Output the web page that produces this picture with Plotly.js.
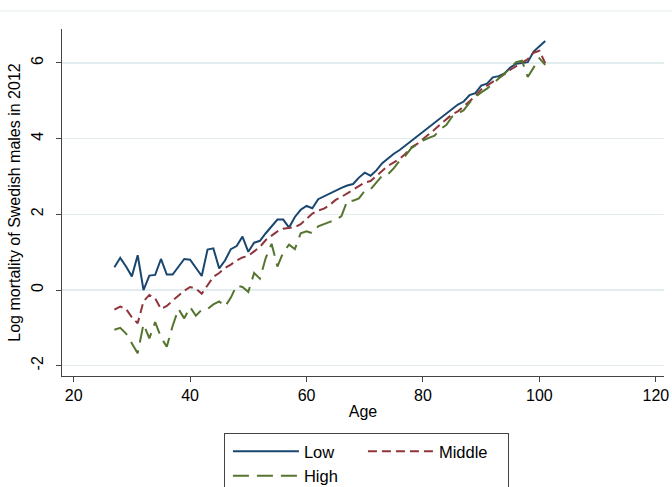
<!DOCTYPE html>
<html>
<head>
<meta charset="utf-8">
<script src="https://cdn.plot.ly/plotly-3.0.1.min.js"></script>
<style>html,body{margin:0;padding:0;background:#fff;}#chart{width:672px;height:487px;}</style>
</head>
<body>
<div id="chart"></div>
<script>
var ages = [];
for (var a = 27; a <= 101; a++) ages.push(a);

var lowVals = [
  0.60, 0.85, 0.62, 0.36, 0.92, 0.00, 0.38, 0.40, 0.82, 0.41,
  0.41, 0.62, 0.82, 0.80, 0.60, 0.37, 1.07, 1.10, 0.57, 0.78,
  1.08, 1.16, 1.41, 1.01, 1.25, 1.30, 1.50, 1.68, 1.86, 1.86,
  1.65, 1.93, 2.12, 2.22, 2.16, 2.40, 2.48, 2.55, 2.63, 2.70,
  2.76, 2.80, 2.97, 3.10, 3.02, 3.16, 3.35, 3.48, 3.60, 3.70,
  3.82, 3.93, 4.05, 4.18, 4.30, 4.40, 4.52, 4.65, 4.77, 4.90,
  4.98, 5.15, 5.20, 5.40, 5.45, 5.62, 5.65, 5.72, 5.88, 5.98,
  6.00, 6.02, 6.30, 6.45, 6.58
];
var middleVals = [
  -0.52, -0.44, -0.50, -0.72, -0.88, -0.30, -0.13, -0.22, -0.50, -0.42,
  -0.28, -0.15, -0.02, 0.08, 0.04, -0.10, 0.12, 0.35, 0.45, 0.58,
  0.67, 0.78, 0.86, 0.90, 1.02, 1.14, 1.32, 1.43, 1.55, 1.62,
  1.65, 1.66, 1.74, 1.87, 2.02, 2.10, 2.15, 2.25, 2.38, 2.46,
  2.56, 2.66, 2.75, 2.84, 2.88, 3.02, 3.16, 3.28, 3.37, 3.47,
  3.60, 3.77, 3.86, 3.98, 4.12, 4.24, 4.38, 4.52, 4.64, 4.72,
  4.85, 4.98, 5.12, 5.30, 5.40, 5.48, 5.60, 5.70, 5.82, 5.92,
  6.02, 6.10, 6.27, 6.32, 5.99
];
var highVals = [
  -1.05, -1.00, -1.15, -1.42, -1.67, -0.90, -1.28, -0.85, -1.25, -1.50,
  -0.95, -0.50, -0.75, -0.45, -0.68, -0.52, -0.50, -0.38, -0.30, -0.44,
  -0.20, 0.12, 0.08, -0.05, 0.45, 0.30, 0.85, 1.22, 0.62, 1.00,
  1.20, 1.08, 1.50, 1.55, 1.50, 1.68, 1.75, 1.80, 1.85, 1.95,
  2.36, 2.36, 2.42, 2.62, 2.66, 2.84, 3.02, 3.06, 3.22, 3.42,
  3.55, 3.75, 3.85, 3.95, 4.02, 4.08, 4.25, 4.36, 4.58, 4.66,
  4.75, 4.95, 5.10, 5.22, 5.32, 5.45, 5.58, 5.72, 5.86, 6.02,
  6.06, 5.63, 5.88, 6.12, 5.95
];
var seriesNames = ['Low', 'Middle', 'High'];
var xTicks = [20, 40, 60, 80, 100, 120];
var yTicks = [-2, 0, 2, 4, 6];

var FONT = 'Liberation Sans, Arial, sans-serif';
var traces = [
  {x: ages, y: lowVals, name: seriesNames[0], type: 'scatter', mode: 'lines', legendgroup: 'a',
   line: {color: '#1a476f', width: 2}},
  {x: ages, y: middleVals, name: seriesNames[1], type: 'scatter', mode: 'lines', legendgroup: 'b',
   legendwidth: 64,
   line: {color: '#90353b', width: 2, dash: '9px,5px'}},
  {x: ages, y: highVals, name: seriesNames[2], type: 'scatter', mode: 'lines', legendgroup: 'a',
   line: {color: '#55752f', width: 2, dash: '16px,8px'}}
];

var layout = {
  width: 672, height: 487,
  margin: {l: 62, r: 8, t: 29, b: 111, autoexpand: false},
  paper_bgcolor: '#ffffff', plot_bgcolor: '#ffffff',
  font: {family: FONT, size: 16, color: '#000'},
  showlegend: true,
  xaxis: {
    range: [18, 121.4], tickvals: xTicks, ticktext: xTicks.map(String),
    showgrid: false, zeroline: false, showline: true, linecolor: '#444', linewidth: 1,
    ticks: 'outside', ticklen: 5, tickcolor: '#444', tickfont: {size: 16},
    title: {text: 'Age', font: {size: 16}, standoff: 2}
  },
  yaxis: {
    range: [-2.272, 6.896], tickvals: yTicks, ticktext: yTicks.map(String),
    showgrid: true, gridcolor: '#e3edf0', gridwidth: 1.2, zeroline: false,
    showline: true, linecolor: '#444', linewidth: 1,
    ticks: 'outside', ticklen: 5, tickcolor: '#444', tickangle: -90, tickfont: {size: 16},
    ticklabelstandoff: 7,
    title: {text: 'Log mortality of Swedish males in 2012', font: {size: 16}, standoff: 3}
  },
  legend: {
    orientation: 'h', traceorder: 'grouped',
    x: 0.269, xanchor: 'left', y: -0.1643, yanchor: 'top',
    bordercolor: '#444', borderwidth: 1, bgcolor: '#fff',
    font: {size: 16.5}, itemwidth: 66, entrywidth: 50, indentation: 4
  },
  shapes: [{
    type: 'line', xref: 'paper', yref: 'paper',
    x0: -62/602, x1: 610/602, y0: 1.0519, y1: 1.0519,
    line: {color: '#e1eaed', width: 1}
  }]
};

Plotly.newPlot('chart', traces, layout, {displayModeBar: false, staticPlot: true});
</script>
</body>
</html>
